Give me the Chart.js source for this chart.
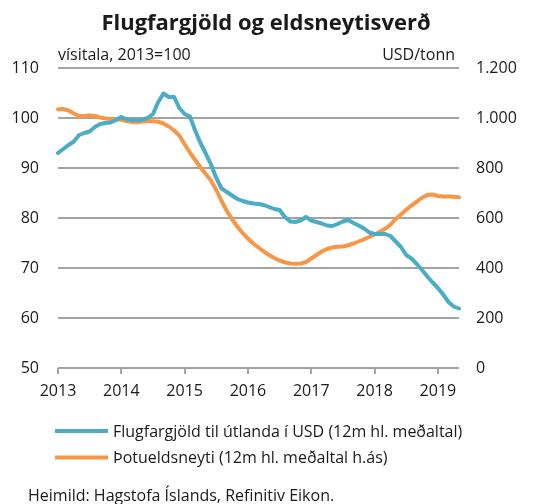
<!DOCTYPE html>
<html lang="is">
<head>
<meta charset="utf-8">
<title>Flugfargjöld og eldsneytisverð</title>
<script src="https://cdn.jsdelivr.net/npm/chart.js@4"></script>
<style>
  html, body { margin: 0; padding: 0; background: #ffffff; }
  #wrap { width: 536px; height: 504px; position: relative; }
  canvas { display: block; }
</style>
</head>
<body>
<div id="wrap"><canvas id="chart" width="536" height="504"></canvas></div>
<script>
// Monthly observations, January 2013 to May 2019
const firstYear = 2013;
const monthCount = 77;

// Air fares abroad in USD, 12-month moving average (index, 2013=100)
const fares = [
  93.0, 93.8, 94.6, 95.3, 96.6, 97.0, 97.3, 98.2, 98.8, 99.0, 99.1, 99.6,
  100.2, 99.7, 99.6, 99.6, 99.7, 100.0, 100.8, 103.2, 104.9, 104.2, 104.2, 102.0,
  100.8, 100.3, 97.5, 95.0, 92.9, 90.7, 88.0, 85.9, 85.2, 84.5, 83.8, 83.4,
  83.1, 82.9, 82.8, 82.6, 82.2, 81.8, 81.6, 80.2, 79.3, 79.2, 79.5, 80.2,
  79.5, 79.2, 78.9, 78.5, 78.4, 78.8, 79.3, 79.6, 79.0, 78.5, 77.9, 77.1,
  76.8, 76.8, 76.8, 76.4, 75.3, 74.2, 72.6, 71.9, 70.8, 69.6, 68.3, 67.1,
  66.0, 64.7, 63.2, 62.3, 61.9
];

// Jet fuel, USD per tonne, 12-month moving average (right axis)
const jetFuel = [
  1035, 1036, 1030, 1018, 1008, 1008, 1010, 1008, 1002, 998, 996, 995,
  993, 988, 984, 983, 986, 988, 987, 985, 978, 966, 950, 930,
  895, 862, 832, 803, 776, 750, 712, 668, 628, 595, 565, 540,
  518, 498, 482, 466, 452, 440, 430, 423, 418, 417, 418, 424,
  438, 452, 466, 476, 482, 485, 486, 491, 498, 506, 515, 524,
  534, 545, 557, 573, 596, 614, 633, 650, 665, 681, 692, 694,
  688, 686, 686, 685, 683
];

// Month categories on the x axis
const months = [];
for (let i = 0; i < monthCount; i++) {
  const y = firstYear + Math.floor(i / 12);
  const m = String((i % 12) + 1).padStart(2, '0');
  months.push(y + '-' + m);
}

const leftAxis = { min: 50, max: 110, step: 10 };
const rightAxis = { min: 0, max: 1200, step: 200 };

const seriesNames = [
  'Flugfargjöld til útlanda í USD (12m hl. meðaltal)',
  'Þotueldsneyti (12m hl. meðaltal h.ás)'
];
const seriesColors = ['#4BACC6', '#F79646'];

const FONT = '"Open Sans", "Noto Sans", "Liberation Sans", sans-serif';
const TEXT = '#1a1a1a';
const GRID = '#a3a3a3';

// Title, unit captions, legend and source line
const annotations = {
  id: 'annotations',
  afterDraw(chart) {
    const ctx = chart.ctx;
    const area = chart.chartArea;
    ctx.save();
    ctx.fillStyle = TEXT;
    ctx.textBaseline = 'alphabetic';

    ctx.font = 'bold 22px ' + FONT;
    ctx.textAlign = 'center';
    ctx.fillText('Flugfargjöld og eldsneytisverð', 266, 30);

    ctx.font = '16px ' + FONT;
    ctx.textAlign = 'left';
    ctx.fillText('vísitala, 2013=100', area.left, 60);
    ctx.textAlign = 'right';
    ctx.fillText('USD/tonn', area.right - 4, 60);

    const rows = [431, 457.5];
    ctx.textAlign = 'left';
    rows.forEach((y, i) => {
      ctx.strokeStyle = seriesColors[i];
      ctx.lineWidth = 4;
      ctx.beginPath();
      ctx.moveTo(55, y);
      ctx.lineTo(108, y);
      ctx.stroke();
      ctx.fillText(seriesNames[i], 113, y + 5.5);
    });

    ctx.fillText('Heimild: Hagstofa Íslands, Refinitiv Eikon.', 28, 501);
    ctx.restore();
  }
};

new Chart(document.getElementById('chart'), {
  type: 'line',
  data: {
    labels: months,
    datasets: [
      {
        label: seriesNames[0],
        data: fares,
        yAxisID: 'y',
        borderColor: seriesColors[0],
        borderWidth: 4,
        pointRadius: 0,
        tension: 0,
        borderCapStyle: 'round',
        borderJoinStyle: 'round',
        order: 1
      },
      {
        label: seriesNames[1],
        data: jetFuel,
        yAxisID: 'y1',
        borderColor: seriesColors[1],
        borderWidth: 4,
        pointRadius: 0,
        tension: 0,
        borderCapStyle: 'round',
        borderJoinStyle: 'round',
        order: 2
      }
    ]
  },
  options: {
    responsive: false,
    animation: false,
    devicePixelRatio: 1,
    layout: { padding: { top: 68, left: 0, right: 0, bottom: 0 } },
    plugins: {
      legend: { display: false },
      tooltip: { enabled: false },
      title: { display: false }
    },
    scales: {
      x: {
        type: 'category',
        offset: false,
        border: { display: false },
        grid: {
          display: true,
          drawOnChartArea: false,
          drawTicks: true,
          tickLength: 6,
          lineWidth: 2,
          color: (c) => (c.index % 12 === 0 && c.index < monthCount - 1 ? GRID : 'rgba(0,0,0,0)')
        },
        ticks: {
          autoSkip: false,
          maxRotation: 0,
          minRotation: 0,
          padding: 8,
          color: TEXT,
          font: { family: FONT, size: 16 },
          callback: function (value, index) {
            const label = months[index];
            return label.endsWith('-01') ? label.slice(0, 4) : '';
          }
        },
        afterFit: (s) => { s.height = 136; }
      },
      y: {
        position: 'left',
        min: leftAxis.min,
        max: leftAxis.max,
        border: { display: false },
        grid: { color: GRID, lineWidth: 2, drawTicks: false },
        ticks: {
          stepSize: leftAxis.step,
          padding: 19,
          color: TEXT,
          font: { family: FONT, size: 16 }
        },
        afterFit: (s) => { s.width = 58; }
      },
      y1: {
        position: 'right',
        min: rightAxis.min,
        max: rightAxis.max,
        border: { display: false },
        grid: { display: false, drawTicks: false },
        ticks: {
          stepSize: rightAxis.step,
          padding: 17,
          color: TEXT,
          font: { family: FONT, size: 16 },
          callback: (v) => v.toLocaleString('de-DE')
        },
        afterFit: (s) => { s.width = 77; }
      }
    }
  },
  plugins: [annotations]
});
</script>
</body>
</html>
